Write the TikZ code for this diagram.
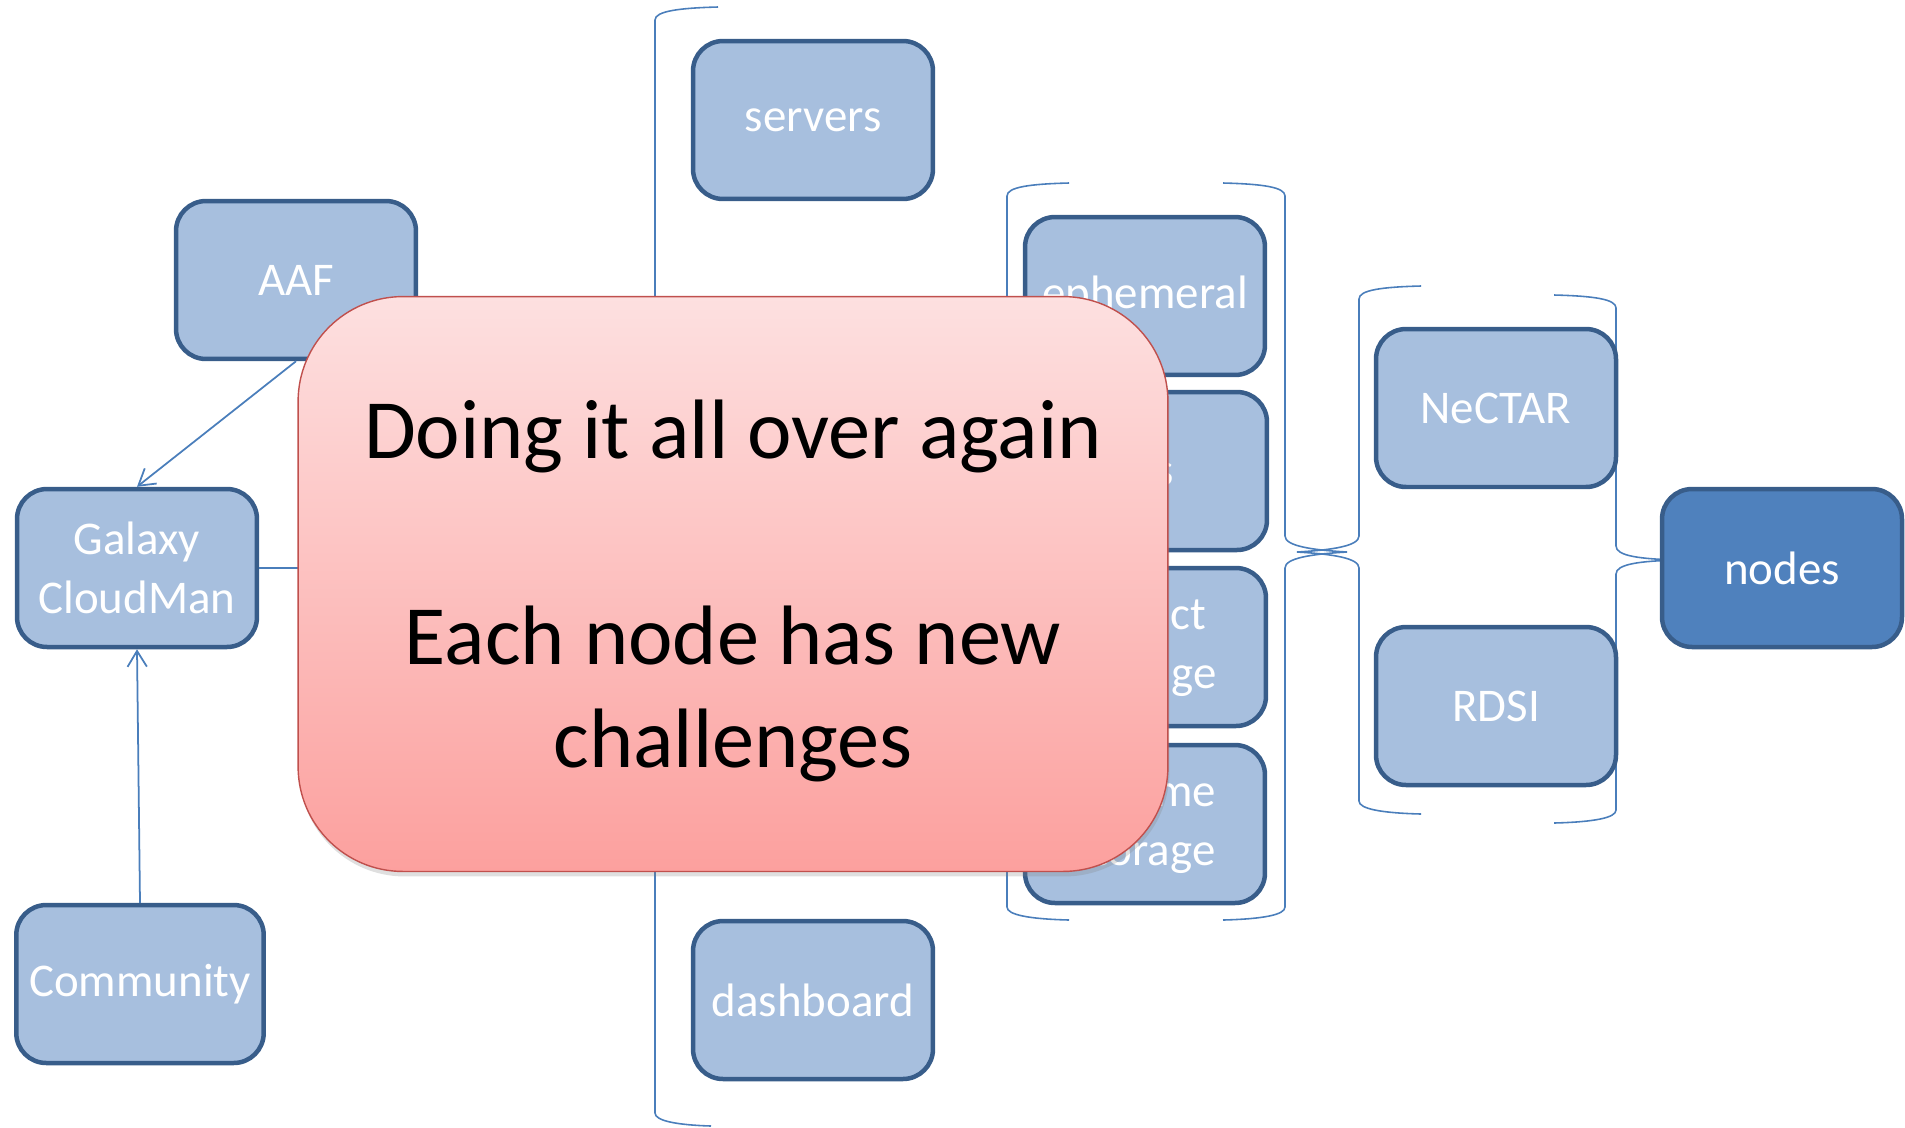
\documentclass[tikz,border=0pt]{standalone}
\usepackage{fontspec}
\setmainfont{Carlito}
\usetikzlibrary{shadows,arrows.meta}
\definecolor{boxfill}{RGB}{167,191,222}
\definecolor{boxline}{RGB}{56,93,138}
\definecolor{nodefill}{RGB}{79,129,189}
\definecolor{linkblue}{RGB}{74,126,187}
\definecolor{pinktop}{RGB}{253,224,224}
\definecolor{pinkbot}{RGB}{252,160,158}
\definecolor{pinkline}{RGB}{192,80,77}

\begin{document}
\begin{tikzpicture}[x=0.02cm,y=-0.02cm,
	part/.style={rounded corners=0.6cm, draw=boxline, line width=0.09cm, fill=boxfill, text=white, minimum width=4.8cm, minimum height=3.16cm, align=center, font=\fontsize{26.7}{33.6}\selectfont, inner sep=2pt},
	brk/.style={draw=linkblue, line width=0.9pt},
	link/.style={draw=linkblue, line width=1pt, -{Straight Barb[length=9pt,width=11pt]}}]
	\useasboundingbox (0,0) rectangle (1905,1127);
	% brackets
	\draw[brk] (718,7) .. controls (680,8) and (655,11) .. (655,20) -- (655,1113) .. controls (655,1121) and (678,1125) .. (711,1126);
	\coordinate (outer) at (655,568);
	\draw[brk] (1069,183) .. controls (1030,184) and (1007,187) .. (1007,196) -- (1007,907) .. controls (1007,915) and (1030,919) .. (1069,920);
	\draw[brk] (1223,183) .. controls (1262,184) and (1285,187) .. (1285,196) -- (1285,536) .. controls (1285,546) and (1312,550) .. (1347,552) .. controls (1312,554) and (1285,558) .. (1285,568) -- (1285,907) .. controls (1285,915) and (1262,919) .. (1223,920);
	\draw[brk] (1421,286) .. controls (1382,287) and (1359,290) .. (1359,299) -- (1359,536) .. controls (1359,546) and (1332,550) .. (1297,552) .. controls (1332,554) and (1359,558) .. (1359,568) -- (1359,801) .. controls (1359,809) and (1382,813) .. (1421,814);
	\draw[brk] (1554,295) .. controls (1593,296) and (1616,299) .. (1616,308) -- (1616,546) .. controls (1616,556) and (1640,559) .. (1678,560) .. controls (1640,561) and (1616,564) .. (1616,574) -- (1616,810) .. controls (1616,818) and (1593,822) .. (1554,823);
	% boxes
	\node[part] at (813,120) (servers) {servers};
	\node[part] at (296,280) (aaf) {AAF};
	\node[part] at (137,568) (cloudman) {Galaxy\\CloudMan};
	\node[part, minimum width=4.95cm] at (140,984) (community) {Community};
	\node[part] at (813,1000) (dashboard) {dashboard};
	\node[part] at (1145,296) (ephemeral) {ephemeral};
	\node[part] at (1147,471) (ips) {IPs};
	\node[part] at (1146,647) (objstore) {object\\storage};
	\node[part] at (1145,824) (volstore) {volume\\storage};
	\node[part] at (1496,408) (nectar) {NeCTAR};
	\node[part] at (1496,706) (rdsi) {RDSI};
	\node[part, fill=nodefill] at (1782,568) (nodes) {nodes};
	\draw[link] (aaf.south) -- (cloudman.north);
	\draw[link] (community.north) -- (cloudman.south);
	\draw[brk] (cloudman.east) -- (outer);
	% overlay
	\node[rounded corners=2.1cm, draw=pinkline, line width=0.8pt, top color=pinktop, bottom color=pinkbot, minimum width=17.4cm, minimum height=11.5cm, drop shadow={shadow xshift=0.03cm, shadow yshift=-0.1cm, opacity=0.25}] at (733,584) (challenge) {};
	\node[align=center, font=\fontsize{48}{58.5}\selectfont] at (733,591) (challengetext) {Doing it all over again\\[58.5pt]Each node has new\\challenges};
\end{tikzpicture}
\end{document}
